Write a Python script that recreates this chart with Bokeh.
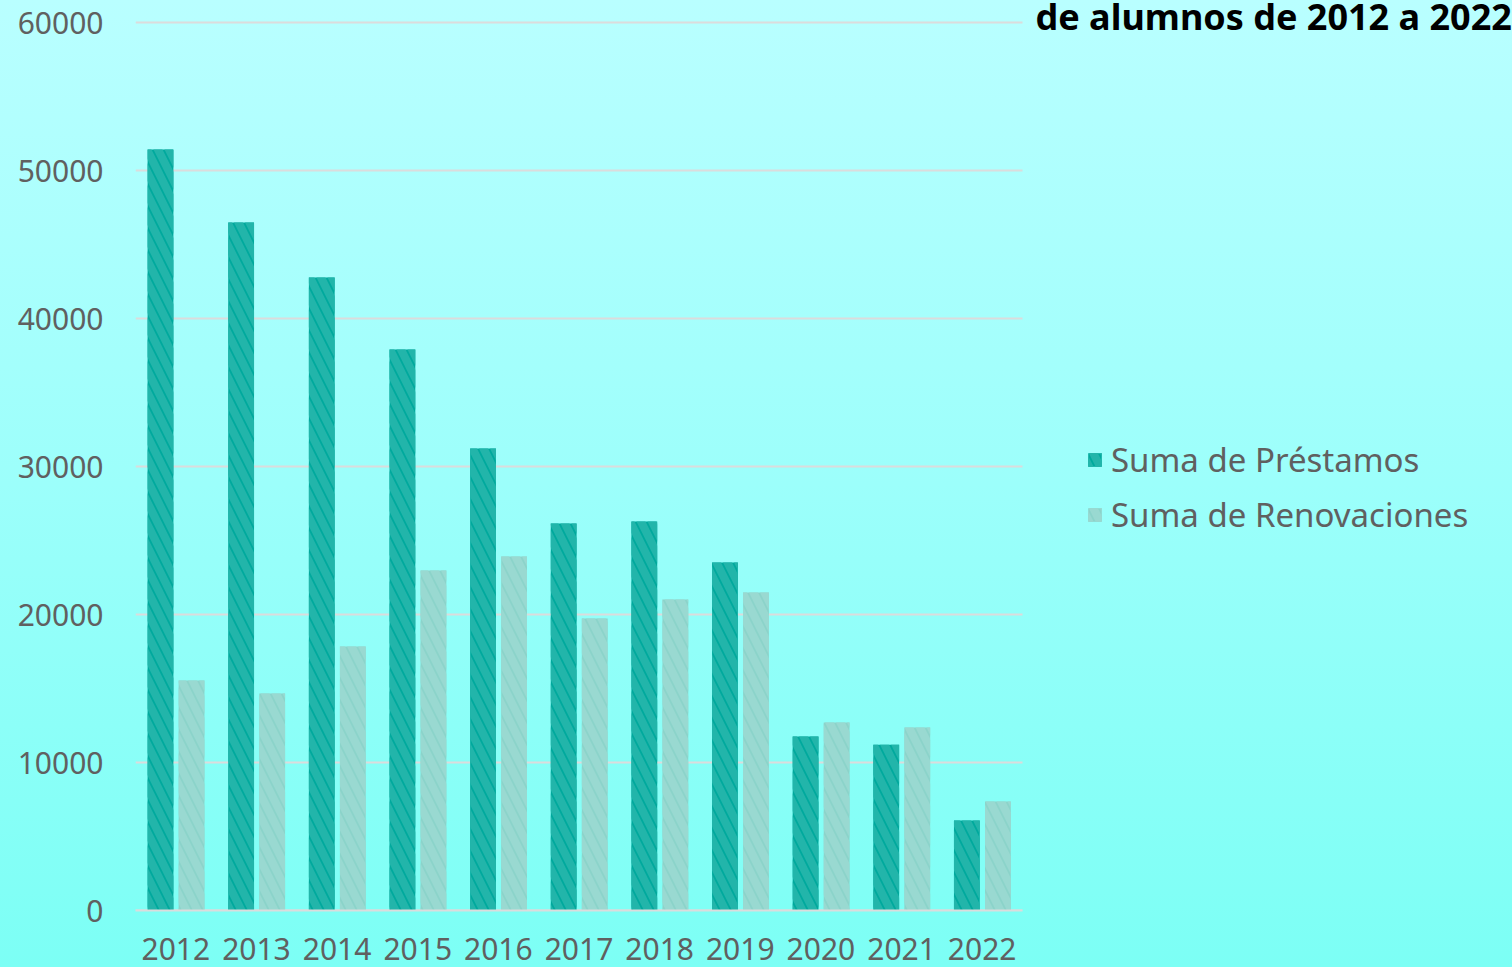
from bokeh.plotting import figure
from bokeh.models import ColumnDataSource, Range1d, Legend, LegendItem, Label, FixedTicker
from bokeh.transform import dodge
from bokeh.embed import file_html
from bokeh.resources import INLINE

years = ["2012", "2013", "2014", "2015", "2016", "2017", "2018", "2019", "2020", "2021", "2022"]
prestamos = [51420, 46490, 42770, 37900, 31220, 26150, 26280, 23510, 11760, 11200, 6080]
renovaciones = [15540, 14660, 17840, 22970, 23920, 19730, 21010, 21490, 12700, 12360, 7360]
y_ticks = [0, 10000, 20000, 30000, 40000, 50000, 60000]
series_names = ["Suma de Préstamos", "Suma de Renovaciones"]
title_text = "de alumnos de 2012 a 2022"

n = len(years)
xc = [i + 0.5 for i in range(n)]
src = ColumnDataSource(dict(x=xc, year=years, p=prestamos, r=renovaciones))

FONT = "Noto Sans"
GRAY = "#606060"
W, H = 1512, 967
LEFT = 135
BOTTOM = 57
CAT_PX = 887 / n          # width of one category in pixels
Y_PX = 888 / 60000        # pixels per unit on the value axis
Y_END = (H - BOTTOM) / Y_PX  # frame reaches the top of the canvas

p = figure(width=W, height=H, title=None,
           x_range=Range1d(0, (W - LEFT) / CAT_PX), y_range=Range1d(0, Y_END),
           output_backend="svg", toolbar_location=None,
           min_border_left=LEFT, min_border_right=0, min_border_top=0, min_border_bottom=BOTTOM)
p.styles = {"background": "linear-gradient(180deg, #b9ffff 0%, #9cfffb 50%, #7cfff5 100%)"}
p.background_fill_color = None
p.border_fill_color = None
p.outline_line_color = None

# horizontal grid lines limited to the category area
p.segment(x0=0, x1=n, y0=y_ticks, y1=y_ticks, line_color="#dcdcdc", line_width=2)

r1 = p.vbar(x=dodge("x", -0.19), top="p", width=0.32, source=src,
            fill_color="#00a99d", line_color=None,
            hatch_pattern="\\", hatch_color="#22b5aa", hatch_alpha=1.0, hatch_scale=22, hatch_weight=8)
r2 = p.vbar(x=dodge("x", 0.195), top="r", width=0.32, source=src,
            fill_color="#8bd3ca", line_color=None,
            hatch_pattern="\\", hatch_color="#99d9d1", hatch_alpha=1.0, hatch_scale=22, hatch_weight=8)

p.xgrid.grid_line_color = None
p.ygrid.grid_line_color = None
p.yaxis.ticker = FixedTicker(ticks=y_ticks)
p.xaxis.ticker = FixedTicker(ticks=xc)
p.xaxis.major_label_overrides = {x: y for x, y in zip(xc, years)}
p.xaxis.bounds = (0, n)

for ax in (p.xaxis, p.yaxis):
    ax.major_tick_line_color = None
    ax.minor_tick_line_color = None
    ax.major_label_text_font = FONT
    ax.major_label_text_font_size = "30px"
    ax.major_label_text_color = GRAY
p.yaxis.axis_line_color = None
p.xaxis.axis_line_color = "#dcdcdc"
p.xaxis.axis_line_width = 2
p.yaxis.major_label_standoff = 26
p.xaxis.major_label_standoff = 21
p.yaxis.formatter.use_scientific = False

legend = Legend(items=[LegendItem(label=series_names[0], renderers=[r1]),
                       LegendItem(label=series_names[1], renderers=[r2])],
                location=(951, 373), background_fill_alpha=0, border_line_color=None,
                label_text_font=FONT, label_text_font_size="33px", label_text_color=GRAY,
                glyph_width=17, glyph_height=17, label_standoff=8, spacing=10, padding=0, margin=0)
p.add_layout(legend)

lbl = Label(x=1035 - LEFT, y=894, x_units="screen", y_units="screen", text=title_text,
            text_font=FONT, text_font_size="36px", text_font_style="bold", text_color="black",
            text_baseline="alphabetic")
p.add_layout(lbl)

open("out.html", "w").write(file_html(p, INLINE))
